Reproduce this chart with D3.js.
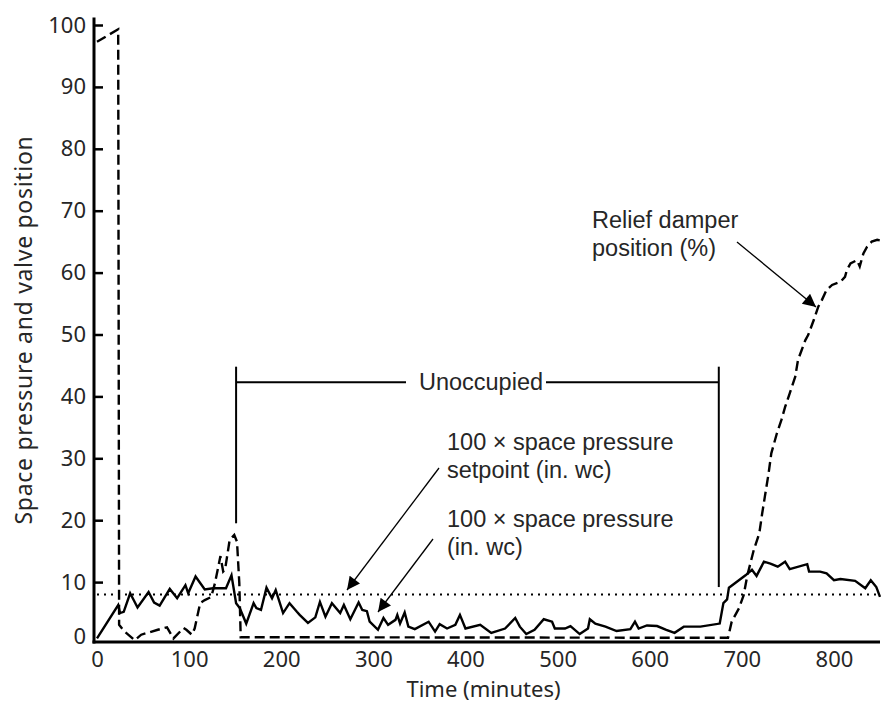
<!DOCTYPE html>
<html>
<head>
<meta charset="utf-8">
<script src="https://cdn.jsdelivr.net/npm/d3@7"></script>
<style>
  html, body { margin: 0; padding: 0; background: #fff; }
  svg { display: block; }
</style>
</head>
<body>
<svg id="chart" width="884" height="703"></svg>
<script>
// ---- data ----
const xTicks = [0, 100, 200, 300, 400, 500, 600, 700, 800];
const yTicks = [0, 10, 20, 30, 40, 50, 60, 70, 80, 90, 100];

// 100 x space pressure (in. wc): time (min), value
const pressureTime = [0, 23, 25, 29, 36, 44, 56, 62, 68, 79, 87, 96, 99, 107, 117, 126, 140, 146, 151, 155, 162, 170, 173, 178, 184, 190, 194, 202, 209, 217, 220, 229, 237, 242, 248, 255, 264, 268, 275, 284, 288, 293, 296, 305, 311, 316, 324, 326, 329, 334, 338, 345, 360, 367, 372, 380, 389, 394, 400, 416, 428, 443, 454, 459, 466, 475, 485, 494, 497, 508, 514, 524, 533, 535, 541, 552, 564, 579, 584, 588, 597, 608, 618, 627, 637, 655, 676, 680, 684, 686, 695, 704, 711, 716, 724, 731, 739, 747, 752, 771, 773, 785, 792, 800, 807, 823, 834, 840, 846, 850];
const pressureValue = [0.9, 6.3, 5.0, 5.2, 8.2, 5.9, 8.4, 6.7, 6.2, 8.9, 7.4, 9.5, 8.2, 10.9, 8.8, 9.0, 9.0, 11.1, 6.6, 5.8, 3.3, 6.6, 5.8, 5.5, 9.1, 7.4, 8.7, 5.0, 6.6, 5.2, 4.7, 3.4, 4.3, 6.8, 4.4, 6.6, 5.0, 6.3, 4.0, 6.7, 5.5, 5.3, 3.6, 2.3, 4.2, 3.1, 3.9, 4.7, 3.3, 5.1, 2.8, 2.4, 3.6, 2.0, 3.2, 2.5, 3.1, 4.7, 2.5, 3.1, 1.8, 2.5, 4.2, 2.8, 1.6, 2.3, 4.0, 3.6, 2.5, 2.5, 2.9, 1.6, 2.5, 4.0, 3.3, 2.8, 2.1, 2.4, 3.6, 2.5, 3.0, 2.9, 2.3, 1.8, 2.8, 2.8, 3.3, 6.6, 7.2, 9.1, 10.1, 11.1, 12.0, 11.0, 13.3, 13.0, 12.5, 13.3, 12.1, 12.9, 11.7, 11.7, 11.4, 10.3, 10.5, 10.2, 9.0, 10.3, 9.2, 7.6];

// 100 x space pressure setpoint (in. wc)
const setpointTime = [0, 850];
const setpointValue = [8, 8];

// Relief damper position (%)
const damperTime = [0, 23, 24, 30, 41, 48, 66, 76, 83, 94, 97, 103, 106, 112, 117, 124, 128, 134, 137, 139, 144, 149, 152, 154.5, 156, 685, 689, 697, 702, 706, 713, 719, 722, 725, 729, 732, 738, 743, 747, 752, 758, 761, 765, 769, 772, 778, 783, 787, 792, 798, 807, 812, 814, 818, 825, 828, 832, 836, 841, 847, 850];
const damperValue = [97.3, 99.3, 3.1, 2.0, 0.6, 1.5, 2.3, 2.7, 0.9, 2.6, 2.3, 1.5, 2.5, 6.6, 7.1, 7.6, 9.8, 14.2, 11.7, 12.0, 16.8, 17.6, 16.5, 9.8, 1.1, 1.0, 3.6, 5.8, 7.9, 11.1, 15.2, 17.9, 21.0, 23.8, 27.5, 30.8, 34.0, 36.2, 38.3, 40.5, 43.2, 45.9, 47.5, 49.1, 49.9, 52.3, 54.5, 55.6, 57.2, 58.0, 58.5, 59.3, 60.4, 61.5, 62.0, 61.0, 63.1, 64.2, 65.0, 65.3, 65.2];

// Unoccupied period (min)
const unoccupiedStart = 151;
const unoccupiedEnd = 675;

// Annotation texts
const yTitle = "Space pressure and valve position";
const xTitle = "Time (minutes)";
const unoccupiedLabel = "Unoccupied";
const setpointLabel = ["100 × space pressure", "setpoint (in. wc)"];
const pressureLabel = ["100 × space pressure", "(in. wc)"];
const damperLabel = ["Relief damper", "position (%)"];

// ---- drawing ----
const svg = d3.select("#chart");
const x = d3.scaleLinear().domain([0, 850]).range([97, 880]);
const y = d3.scaleLinear().domain([0, 100]).range([644, 25]);
const axisY = 642;   // position of x axis line
const axisX = 94;    // position of y axis line
const axisFont = "'Noto Sans', 'DejaVu Sans', sans-serif";
const annFont = "'Liberation Sans', Arial, sans-serif";
const textColor = "#262626";

// defs: arrowhead
svg.append("defs").append("marker")
  .attr("id", "arrow")
  .attr("viewBox", "0 0 10 10")
  .attr("refX", 10).attr("refY", 5)
  .attr("markerUnits", "userSpaceOnUse")
  .attr("markerWidth", 17).attr("markerHeight", 13)
  .attr("orient", "auto")
  .append("path").attr("d", "M0,0 L10,5 L0,10 Z").attr("fill", "#000");

// Lines
const zipPts = (t, v) => t.map((d, i) => [d, v[i]]);
const line = d3.line().x(d => x(d[0])).y(d => y(d[1]));

svg.append("path").datum(zipPts(setpointTime, setpointValue))
  .attr("d", line).attr("fill", "none").attr("stroke", "#000")
  .attr("stroke-width", 2).attr("stroke-dasharray", "2,5");

svg.append("path").datum(zipPts(damperTime, damperValue))
  .attr("d", line).attr("fill", "none").attr("stroke", "#000")
  .attr("stroke-width", 2.4).attr("stroke-dasharray", "10,5");

svg.append("path").datum(zipPts(pressureTime, pressureValue))
  .attr("d", line).attr("fill", "none").attr("stroke", "#000")
  .attr("stroke-width", 2.4).attr("stroke-linejoin", "miter");

// Axes
const yAxis = d3.axisLeft(y).tickValues(yTicks).tickSizeInner(-9).tickSizeOuter(0).tickPadding(8);
const gy = svg.append("g").attr("transform", `translate(${axisX},0)`).call(yAxis);
gy.select(".domain").remove();
gy.selectAll(".tick line").attr("stroke", "#000").attr("stroke-width", 2.5);
gy.selectAll(".tick text").style("font-size", "22px").style("fill", textColor)
  .style("font-family", axisFont);
gy.selectAll(".tick").filter(d => d === 0).select("text").attr("y", -8);
gy.selectAll(".tick").filter(d => d === 0).select("line").remove();

const xAxis = d3.axisBottom(x).tickValues(xTicks).tickSize(0).tickPadding(9);
const gx = svg.append("g").attr("transform", `translate(0,${axisY})`).call(xAxis);
gx.select(".domain").remove();
gx.selectAll(".tick text").style("font-size", "22px").style("fill", textColor)
  .style("font-family", axisFont);

svg.append("line").attr("x1", axisX).attr("x2", axisX).attr("y1", y(101.2)).attr("y2", axisY + 1.5)
  .attr("stroke", "#000").attr("stroke-width", 3);
svg.append("line").attr("x1", axisX - 1.5).attr("x2", x(850)).attr("y1", axisY).attr("y2", axisY)
  .attr("stroke", "#000").attr("stroke-width", 3);

// Axis titles
svg.append("text").attr("transform", `translate(24,330) rotate(-90)`)
  .attr("text-anchor", "middle").attr("dy", "0.35em")
  .style("font-size", "23px").style("font-family", axisFont).style("fill", textColor)
  .attr("letter-spacing", 0.7).text(yTitle);
svg.append("text").attr("x", (x(0) + x(850)) / 2 - 5).attr("y", 697)
  .attr("text-anchor", "middle")
  .style("font-size", "22px").style("font-family", axisFont).style("fill", textColor)
  .text(xTitle);

// Unoccupied bracket
const bx1 = x(unoccupiedStart), bx2 = x(unoccupiedEnd);
const bTop = y(44.8), bH = y(42.3);
const br = svg.append("g").attr("stroke", "#000").attr("stroke-width", 2);
br.append("line").attr("x1", bx1).attr("x2", bx1).attr("y1", bTop).attr("y2", y(19.5));
br.append("line").attr("x1", bx2).attr("x2", bx2).attr("y1", bTop).attr("y2", y(9.2));
br.append("line").attr("x1", bx1).attr("x2", 406).attr("y1", bH).attr("y2", bH);
br.append("line").attr("x1", 546).attr("x2", bx2).attr("y1", bH).attr("y2", bH);
svg.append("text").attr("x", 481).attr("y", bH).attr("dy", "0.35em")
  .attr("text-anchor", "middle")
  .style("font-size", "23.5px").style("font-family", annFont).style("fill", textColor)
  .text(unoccupiedLabel);

// Annotation text blocks
function block(lines, xx, yy) {
  const t = svg.append("text")
    .style("font-size", "23.5px").style("font-family", annFont).style("fill", textColor);
  lines.forEach((s, i) => t.append("tspan").attr("x", xx).attr("y", yy + i * 28).text(s));
}
block(setpointLabel, 447, 450);
block(pressureLabel, 447, 527);
block(damperLabel, 592, 228);

// Arrows
function arrow(x1, y1, x2, y2) {
  svg.append("line").attr("x1", x1).attr("y1", y1).attr("x2", x2).attr("y2", y2)
    .attr("stroke", "#000").attr("stroke-width", 1.3).attr("marker-end", "url(#arrow)");
}
arrow(439, 468, 347, 590);
arrow(433, 539, 378, 612);
arrow(737, 242, 816, 307);
</script>
</body>
</html>
